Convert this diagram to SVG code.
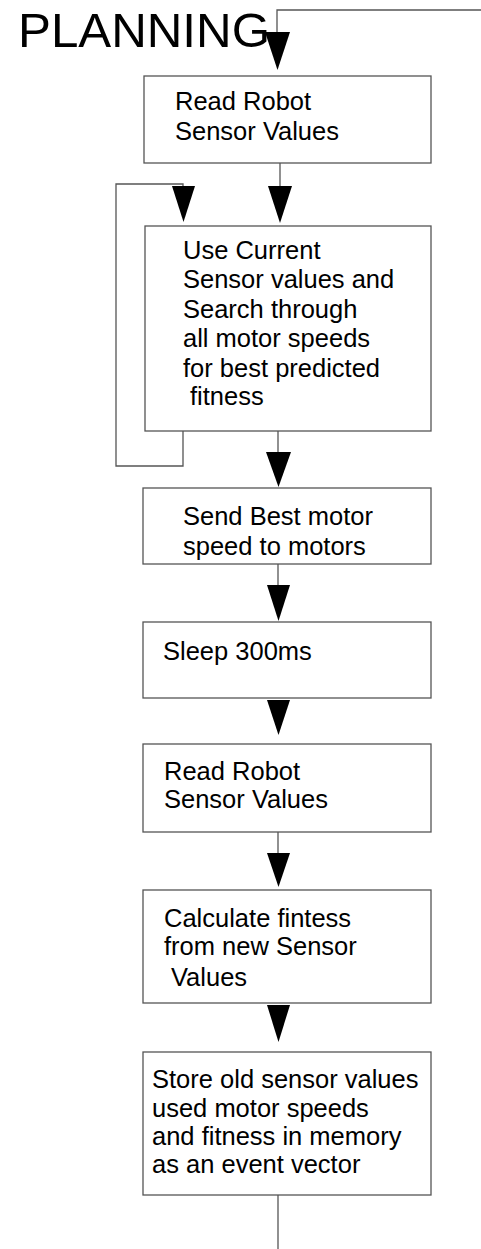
<svg xmlns="http://www.w3.org/2000/svg" width="481" height="1249" viewBox="0 0 481 1249">
<style>
.box{fill:#fff;stroke:#555;stroke-width:1.3}
.t{font-family:"Liberation Sans",Arial,sans-serif;font-size:25.5px;fill:#000}
.ln{fill:none;stroke:#555;stroke-width:1.3}
.ah{fill:#000;stroke:none}
</style>
<rect width="481" height="1249" fill="#fff"/>
<text x="18" y="47" font-family="'Liberation Sans',Arial,sans-serif" font-size="48" textLength="252" lengthAdjust="spacingAndGlyphs" fill="#000">PLANNING</text>
<g id="connectors">
<path class="ln" d="M481,10 H277 V33" stroke="#222"/>
<polygon class="ah" points="265,32 290,32 277.5,70"/>
<path class="ln" d="M280,163 V187"/>
<polygon class="ah" points="268,186 292,186 280,223"/>
<path class="ln" d="M183,431 V466 H116 V184 H183 V187"/>
<polygon class="ah" points="172,186 195,186 183.5,222"/>
<path class="ln" d="M278,431 V453"/>
<polygon class="ah" points="266,452 291,452 278.5,487"/>
<path class="ln" d="M278,564 V586"/>
<polygon class="ah" points="267,585 290,585 278.5,621"/>
<polygon class="ah" points="267,700 290,700 278.5,735"/>
<path class="ln" d="M278,832 V854"/>
<polygon class="ah" points="267,853 290,853 278.5,887"/>
<polygon class="ah" points="267,1005 290,1005 278.5,1042"/>
<path class="ln" d="M278,1195 V1249"/>
</g>
<g id="n1">
<rect class="box" x="144" y="76" width="287" height="87"/>
<text class="t" x="175" y="110">Read Robot</text>
<text class="t" x="175" y="140">Sensor Values</text>
</g>
<g id="n2">
<rect class="box" x="145" y="226" width="286" height="205"/>
<text class="t" x="183" y="259">Use Current</text>
<text class="t" x="183" y="288">Sensor values and</text>
<text class="t" x="183" y="318">Search through</text>
<text class="t" x="183" y="347">all motor speeds</text>
<text class="t" x="183" y="377">for best predicted</text>
<text class="t" x="190" y="405">fitness</text>
</g>
<g id="n3">
<rect class="box" x="143" y="488" width="288" height="76"/>
<text class="t" x="183" y="525">Send Best motor</text>
<text class="t" x="183" y="555">speed to motors</text>
</g>
<g id="n4">
<rect class="box" x="143" y="622" width="288" height="76"/>
<text class="t" x="163" y="660">Sleep 300ms</text>
</g>
<g id="n5">
<rect class="box" x="143" y="744" width="288" height="88"/>
<text class="t" x="164" y="780">Read Robot</text>
<text class="t" x="164" y="808">Sensor Values</text>
</g>
<g id="n6">
<rect class="box" x="143" y="890" width="288" height="113"/>
<text class="t" x="164" y="927">Calculate fintess</text>
<text class="t" x="164" y="955">from new Sensor</text>
<text class="t" x="171" y="986">Values</text>
</g>
<g id="n7">
<rect class="box" x="143" y="1052" width="288" height="143"/>
<text class="t" x="152" y="1088">Store old sensor values</text>
<text class="t" x="152" y="1117">used motor speeds</text>
<text class="t" x="152" y="1145">and fitness in memory</text>
<text class="t" x="152" y="1173">as an event vector</text>
</g>
</svg>
